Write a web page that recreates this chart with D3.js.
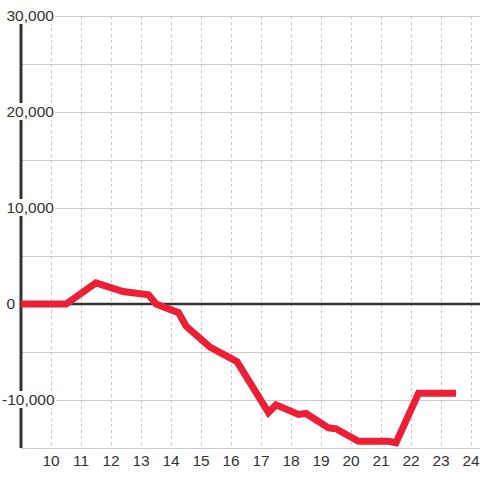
<!DOCTYPE html>
<html><head><meta charset="utf-8">
<script src="https://cdn.jsdelivr.net/npm/d3@7"></script>
<style>html,body{margin:0;padding:0;background:#fff;}svg{display:block;}</style>
</head><body>
<script>
const hours = [9, 10.5, 11.5, 12.4, 13.25, 13.5, 14.25, 14.5, 15.3, 16.2, 17.25, 17.5, 18.25, 18.5, 19.25, 19.5, 20.25, 21.25, 21.5, 22.25, 23.5];
const values = [0, 0, 2200, 1300, 950, 0, -900, -2300, -4500, -6000, -11300, -10500, -11500, -11400, -12900, -13000, -14300, -14300, -14450, -9300, -9300];
const xTicks = [10, 11, 12, 13, 14, 15, 16, 17, 18, 19, 20, 21, 22, 23, 24];
const yGrid = [-15000, -10000, -5000, 0, 5000, 10000, 15000, 20000, 25000, 30000];
const yLabels = [-10000, 0, 10000, 20000, 30000];

const W = 480, H = 480;
const svg = d3.select("body").append("svg").attr("width", W).attr("height", H);
const x = d3.scaleLinear().domain([9, 24.3]).range([21, 480]);
const y = d3.scaleLinear().domain([-15000, 30000]).range([448, 16]);
const font = "'Liberation Sans', Arial, sans-serif";

// horizontal grid
svg.append("g").selectAll("line").data(yGrid).join("line")
  .attr("x1", x(9)).attr("x2", W)
  .attr("y1", d => Math.round(y(d)) + 0.5).attr("y2", d => Math.round(y(d)) + 0.5)
  .attr("stroke", "#cccccc").attr("stroke-width", 1);

// vertical dashed grid
svg.append("g").selectAll("line").data(xTicks).join("line")
  .attr("x1", d => Math.round(x(d)) + 0.5).attr("x2", d => Math.round(x(d)) + 0.5)
  .attr("y1", y(30000)).attr("y2", y(-15000))
  .attr("stroke", "#c8c8c8").attr("stroke-width", 1).attr("stroke-dasharray", "3,3");

// zero line
svg.append("line").attr("x1", x(9)).attr("x2", W)
  .attr("y1", y(0)).attr("y2", y(0))
  .attr("stroke", "#333").attr("stroke-width", 2.5);

// y axis line
svg.append("line").attr("x1", x(9)).attr("x2", x(9))
  .attr("y1", y(30000)).attr("y2", y(-15000))
  .attr("stroke", "#333").attr("stroke-width", 3);

// y labels with background
const fmt = d3.format(",");
const yl = svg.append("g");
yLabels.forEach(d => {
  const g = yl.append("g");
  const t = g.append("text")
    .attr("x", d < 0 ? 2 : 6.5).attr("y", y(d)).attr("dy", "0.35em")
    .attr("font-family", font).attr("font-size", 15.5).attr("fill", "#333")
    .text(d < 0 ? "-" + fmt(-d) : fmt(d));
  const b = t.node().getBBox();
  g.insert("rect", "text")
    .attr("x", b.x - 1).attr("y", y(d) - 9).attr("width", b.width + 2).attr("height", 17)
    .attr("fill", "#fff");
});

// x labels
svg.append("g").selectAll("text").data(xTicks).join("text")
  .attr("x", d => x(d)).attr("y", 466).attr("text-anchor", "middle")
  .attr("font-family", font).attr("font-size", 15.5).attr("fill", "#333")
  .text(d => d);

// data line
const line = d3.line().x((d, i) => x(hours[i])).y(d => y(d));
svg.append("path").datum(values)
  .attr("d", line).attr("fill", "none")
  .attr("stroke", "#ec1f37").attr("stroke-width", 7)
  .attr("stroke-linejoin", "miter").attr("stroke-linecap", "butt");
</script>
</body></html>
